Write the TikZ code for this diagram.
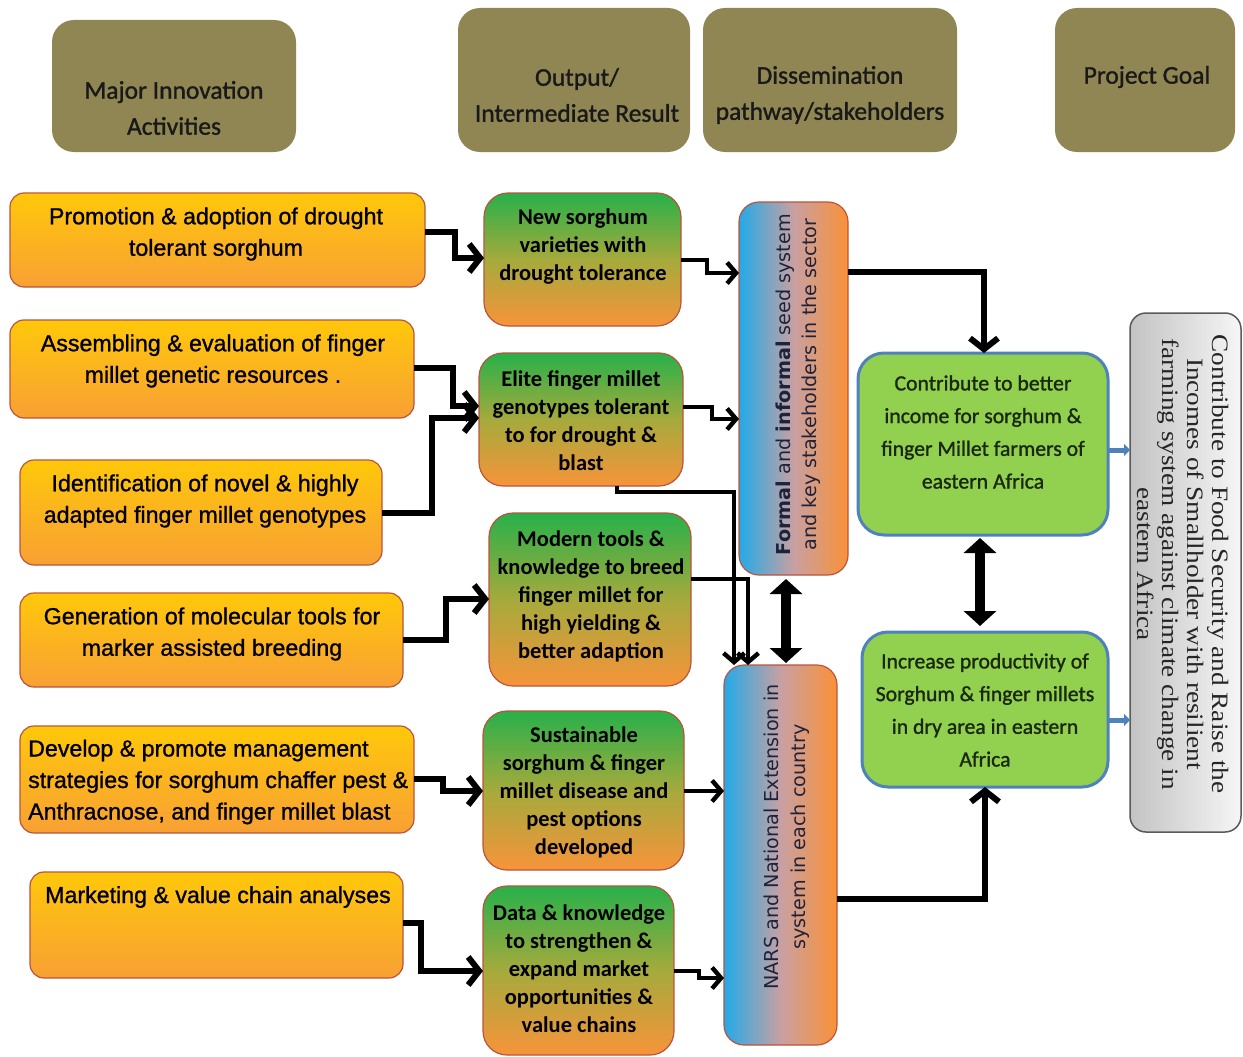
\documentclass[tikz,border=0pt]{standalone}
\usepackage{fontspec}
\usetikzlibrary{arrows.meta}
\newfontfamily\arialf[FakeBold=1]{Liberation Sans}
\newfontfamily\calf{Carlito}
\newfontfamily\calhf[FakeBold=1.2]{Carlito}
\newfontfamily\verf{DejaVu Sans}
\newfontfamily\timesf[FakeStretch=1.16]{Liberation Serif}
\definecolor{headc}{RGB}{143,134,83}
\definecolor{lefttop}{RGB}{255,200,10}
\definecolor{leftbot}{RGB}{248,160,52}
\definecolor{lborder}{RGB}{185,85,60}
\definecolor{btop}{RGB}{40,176,74}
\definecolor{bmid}{RGB}{165,170,60}
\definecolor{bbot}{RGB}{247,148,58}
\definecolor{cleft}{RGB}{35,170,232}
\definecolor{cmid}{RGB}{200,160,162}
\definecolor{cright}{RGB}{250,145,55}
\definecolor{dfill}{RGB}{146,208,80}
\definecolor{dborder}{RGB}{79,129,189}
\definecolor{eleft}{RGB}{195,195,195}
\definecolor{eright}{RGB}{246,246,246}
\definecolor{eborder}{RGB}{90,90,90}
\definecolor{ctext}{RGB}{30,35,60}
\definecolor{dtext}{RGB}{25,40,15}
\tikzset{
  boxbase/.style={shape=rectangle, inner sep=0pt, outer sep=0pt},
  headbox/.style={boxbase, fill=headc, rounded corners=22pt},
  lbox/.style={boxbase, draw=lborder, line width=1.2pt, rounded corners=14pt, top color=lefttop, bottom color=leftbot},
  bbox/.style={boxbase, draw=lborder, line width=1.2pt, rounded corners=24pt, top color=btop, bottom color=bbot, middle color=bmid},
  cbox/.style={boxbase, draw=lborder, line width=1.2pt, rounded corners=20pt, left color=cleft, right color=cright, middle color=cmid},
  dbox/.style={boxbase, draw=dborder, line width=3pt, rounded corners=26pt, fill=dfill},
  ebox/.style={boxbase, draw=eborder, line width=1.5pt, rounded corners=16pt, left color=eleft, right color=eright},
  txt/.style={inner sep=0pt, align=center, text=black},
  headtxt/.style={txt, text=black!90, font=\calhf\fontsize{25.5}{36}\selectfont},
  ltxt/.style={txt, font=\arialf\fontsize{23.2}{31.5}\selectfont},
  btxt/.style={txt, font=\calf\bfseries\fontsize{22.5}{28}\selectfont},
  ctxt/.style={txt, text=ctext, rotate=90, font=\verf\fontsize{19.2}{26.5}\selectfont},
  dtxt/.style={txt, text=dtext, font=\calhf\fontsize{21.7}{32.7}\selectfont},
  etxt/.style={txt, text=black!85, rotate=-90, font=\timesf\fontsize{23.5}{24.8}\selectfont},
  arr/.style={line width=6pt, -{Straight Barb[length=11pt,width=28pt]}},
  thinarr/.style={line width=4.4pt, -{Straight Barb[length=9pt,width=21pt]}},
  dblarr/.style={line width=10pt, {Triangle[length=15pt,width=32pt]}-{Triangle[length=15pt,width=32pt]}},
  bluearr/.style={line width=5pt, draw=dborder, -{Triangle[length=6pt,width=12pt]}}
}
\begin{document}
\begin{tikzpicture}[x=1pt,y=-1pt]
\useasboundingbox (0,0) rectangle (1243,1057);
\fill[white] (0,0) rectangle (1243,1057);

% headers
\node[headbox, minimum width=244pt, minimum height=132pt] (h1) at (174,86) {};
\node[headtxt] (h1t) at (174,108) {Major Innovation\\Activities};
\node[headbox, minimum width=232pt, minimum height=144pt] (h2) at (574,80) {};
\node[headtxt] (h2t) at (577,95) {Output/\\Intermediate Result};
\node[headbox, minimum width=254pt, minimum height=144pt] (h3) at (830,80) {};
\node[headtxt] (h3t) at (830,95) {Dissemination\\pathway/stakeholders};
\node[headbox, minimum width=180pt, minimum height=144pt] (h4) at (1145,80) {};
\node[headtxt] (h4t) at (1147,77) {Project Goal};

% activities
\node[lbox, minimum width=415pt, minimum height=94pt] (a1) at (217.5,240) {};
\node[ltxt] (a1t) at (216,234) {Promotion \& adoption of drought\\tolerant sorghum};
\node[lbox, minimum width=404pt, minimum height=98pt] (a2) at (212,369) {};
\node[ltxt] (a2t) at (213,361) {Assembling \& evaluation of finger\\millet genetic resources .};
\node[lbox, minimum width=362pt, minimum height=105pt] (a3) at (201,512.5) {};
\node[ltxt] (a3t) at (205,501) {Identification of novel \& highly\\adapted finger millet genotypes};
\node[lbox, minimum width=383pt, minimum height=94pt] (a4) at (211.5,640) {};
\node[ltxt] (a4t) at (212,634) {Generation of molecular tools for\\marker assisted breeding};
\node[lbox, minimum width=394pt, minimum height=107pt] (a5) at (217,779.5) {};
\node[ltxt, align=left, anchor=west] (a5t) at (28,782) {Develop \& promote management\\strategies for sorghum chaffer pest \&\\Anthracnose, and finger millet blast};
\node[lbox, minimum width=373pt, minimum height=106pt] (a6) at (216.5,925) {};
\node[ltxt] (a6t) at (218,897) {Marketing \& value chain analyses};

% outputs
\node[bbox, minimum width=197pt, minimum height=133pt] (b1) at (582.5,259.5) {};
\node[btxt] (b1t) at (583,246.5) {New sorghum\\varieties with\\drought tolerance};
\node[bbox, minimum width=204pt, minimum height=133pt] (b2) at (581,419.5) {};
\node[btxt] (b2t) at (581,420.5) {Elite finger millet\\genotypes tolerant\\to for drought \&\\blast};
\node[bbox, minimum width=202pt, minimum height=173pt] (b3) at (590,599.5) {};
\node[btxt] (b3t) at (591,596) {Modern tools \&\\knowledge to breed\\finger millet for\\high yielding \&\\better adaption};
\node[bbox, minimum width=201pt, minimum height=159pt] (b4) at (583.5,790.5) {};
\node[btxt] (b4t) at (584,792) {Sustainable\\sorghum \& finger\\millet disease and\\pest options\\developed};
\node[bbox, minimum width=191pt, minimum height=169pt] (b5) at (578.5,970.5) {};
\node[btxt] (b5t) at (579,969) {Data \& knowledge\\to strengthen \&\\expand market\\opportunities \&\\value chains};

% dissemination
\node[cbox, minimum width=109pt, minimum height=373pt] (c1) at (793.5,388.5) {};
\node[ctxt] (c1t) at (798,384.5) {\textbf{Formal} and \textbf{informal} seed system\\and key stakeholders in the sector};
\node[cbox, minimum width=113pt, minimum height=380pt] (c2) at (780.5,855) {};
\node[ctxt] (c2t) at (786.5,837) {NARS and National Extension in\\system in each country};

% goals
\node[dbox, minimum width=250pt, minimum height=182pt] (d1) at (983,444) {};
\node[dtxt] (d1t) at (983,432) {Contribute to better\\income for sorghum \&\\finger Millet farmers of\\eastern Africa};
\node[dbox, minimum width=246pt, minimum height=155pt] (d2) at (985,709.5) {};
\node[dtxt] (d2t) at (985,710) {Increase productivity of\\Sorghum \& finger millets\\in dry area in eastern\\Africa};

\node[ebox, minimum width=111pt, minimum height=519pt] (e) at (1185.5,572.5) {};
\node[etxt] (et) at (1183,564) {Contribute to Food Security and Raise the\\Incomes of Smallholder with resilient\\farming system against climate change in\\eastern Africa};

% connectors activities -> outputs
\draw[arr] (a1.east|-0,232) -- (455,232) -- (455,258) -- (b1.west|-0,258);
\draw[arr] (a2.east|-0,368) -- (453,368) -- (453,406) -- (b2.west|-0,406);
\draw[arr] (a3.east|-0,513) -- (432,513) -- (432,418) -- (b2.west|-0,418);
\draw[arr] (a4.east|-0,640) -- (446,640) -- (446,599) -- (b3.west|-0,599);
\draw[arr] (a5.east|-0,779) -- (443,779) -- (443,791) -- (b4.west|-0,791);
\draw[arr] (a6.east|-0,923) -- (421,923) -- (421,971) -- (b5.west|-0,971);

% outputs -> dissemination
\draw[thinarr] (b1.east|-0,260) -- (707,260) -- (707,273) -- (c1.west|-0,273);
\draw[thinarr] (b2.east|-0,407) -- (712,407) -- (712,419) -- (c1.west|-0,419);
\draw[thinarr] (b2.south-|617,0) -- (617,492) -- (734,492) -- (c2.north-|734,0);
\draw[thinarr] (b3.east|-0,579) -- (748,579) -- (c2.north-|748,0);
\draw[thinarr] (b4.east|-0,791) -- (c2.west|-0,791);
\draw[thinarr] (b5.east|-0,971) -- (699,971) -- (699,978) -- (c2.west|-0,978);

\draw[dblarr, shorten <=4pt, shorten >=2pt] (c1.south-|786,0) -- (c2.north-|786,0);

% dissemination -> goals
\draw[arr] (c1.east|-0,272) -- (984,272) -- (d1.north-|984,0);
\draw[arr] (c2.east|-0,899) -- (985,899) -- (d2.south);
\draw[dblarr, shorten <=3pt, shorten >=6pt] (d1.south-|980,0) -- (d2.north-|980,0);

\draw[bluearr] (d1.east|-0,450) -- (e.west|-0,450);
\draw[bluearr] (d2.east|-0,720) -- (e.west|-0,720);
\end{tikzpicture}
\end{document}
